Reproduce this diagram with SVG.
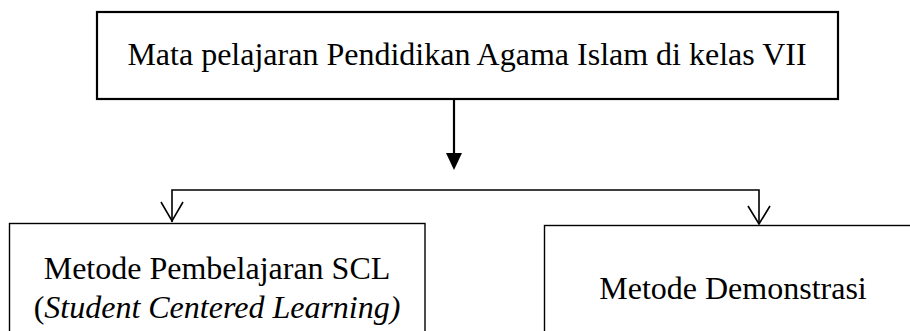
<svg xmlns="http://www.w3.org/2000/svg" width="910" height="331" viewBox="0 0 910 331">
<defs>
<style>
.box{fill:#fff;stroke:#000}
.t{font-family:"Liberation Serif","Times New Roman",serif;font-size:32px;fill:#000;text-anchor:middle}
.c{fill:none;stroke:#000;stroke-width:1.6}
</style>
<marker id="fa" viewBox="0 0 16 17" refX="8" refY="17" markerWidth="16" markerHeight="17" markerUnits="userSpaceOnUse" orient="auto-start-reverse">
<path d="M0 0 L16 0 L8 17 Z" fill="#000"/>
</marker>
</defs>
<rect width="910" height="331" fill="#fff"/>
<g id="node-top">
<rect class="box" x="97" y="12" width="741" height="87" stroke-width="2.2"/>
<text class="t" x="467" y="65">Mata pelajaran Pendidikan Agama Islam di kelas VII</text>
</g>
<g id="node-scl">
<rect class="box" x="9.5" y="223.5" width="415.5" height="120" stroke-width="1.4"/>
<text class="t" x="217" y="279">Metode Pembelajaran SCL</text>
<text class="t" x="217" y="318">(<tspan font-style="italic">Student Centered Learning)</tspan></text>
</g>
<g id="node-demo">
<rect class="box" x="544.5" y="225.5" width="380" height="120" stroke-width="1.4"/>
<text class="t" x="733" y="299">Metode Demonstrasi</text>
</g>
<g id="connectors">
<path d="M454 100 V153" stroke="#000" stroke-width="2.2" fill="none"/>
<path d="M446 153 L462 153 L454 170 Z" fill="#000"/>
<path class="c" d="M172 222 V190 H759 V224"/>
<path class="c" d="M161 202 L172 221 L183 202"/>
<path class="c" d="M748 206 L759 224 L770 206"/>
</g>
</svg>
